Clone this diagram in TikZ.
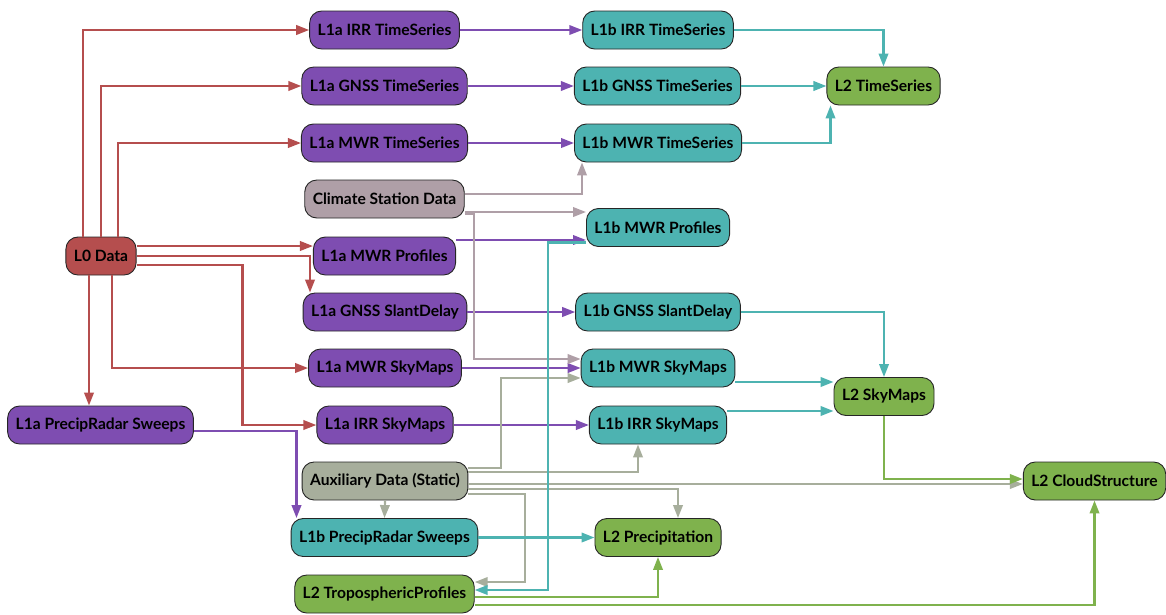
\documentclass[tikz,border=0pt]{standalone}
\usepackage{fontspec}
\setmainfont{Lato}
\usetikzlibrary{arrows.meta}

\definecolor{lzero}{HTML}{B54E4E}
\definecolor{lonea}{HTML}{7E4DB1}
\definecolor{loneb}{HTML}{4DB3B1}
\definecolor{ltwo}{HTML}{7FB24D}
\definecolor{climc}{HTML}{AF9FA7}
\definecolor{auxc}{HTML}{A7AE9C}

\begin{document}
\begin{tikzpicture}[x=1pt, y=-1pt, >={Triangle[length=13pt,width=9.5pt]},
    box/.style={draw=black!85, line width=0.9pt, rounded corners=12pt, minimum height=38pt, inner xsep=8pt, font=\fontsize{15.6}{17}\selectfont\bfseries},
    link/.style={->, line width=2.2pt}]
  \useasboundingbox (0,0) rectangle (1166,614);
  % Level 0 and level 1a
  \node[box, fill=lzero] (L0) at (101,256) {L0 Data};
  \node[box, fill=lonea] (aIRRts) at (384.5,30) {L1a IRR TimeSeries};
  \node[box, fill=lonea] (aGNSSts) at (384.5,86) {L1a GNSS TimeSeries};
  \node[box, fill=lonea] (aMWRts) at (384.5,143) {L1a MWR TimeSeries};
  \node[box, fill=climc] (clim) at (384.5,199) {Climate Station Data};
  \node[box, fill=lonea] (aMWRpr) at (384.5,256) {L1a MWR Profiles};
  \node[box, fill=lonea] (aGNSSsd) at (385,312) {L1a GNSS SlantDelay};
  \node[box, fill=lonea] (aMWRsm) at (385,368) {L1a MWR SkyMaps};
  \node[box, fill=lonea] (aPRsw) at (100.5,425) {L1a PrecipRadar Sweeps};
  \node[box, fill=lonea] (aIRRsm) at (385,425) {L1a IRR SkyMaps};
  \node[box, fill=auxc] (aux) at (385,481) {Auxiliary Data (Static)};
  % Level 1b
  \node[box, fill=loneb] (bPRsw) at (384.5,537.5) {L1b PrecipRadar Sweeps};
  \node[box, fill=loneb] (bIRRts) at (658,30) {L1b IRR TimeSeries};
  \node[box, fill=loneb] (bGNSSts) at (657.5,86) {L1b GNSS TimeSeries};
  \node[box, fill=loneb] (bMWRts) at (658,143) {L1b MWR TimeSeries};
  \node[box, fill=loneb] (bMWRpr) at (658,227.5) {L1b MWR Profiles};
  \node[box, fill=loneb] (bGNSSsd) at (658,312) {L1b GNSS SlantDelay};
  \node[box, fill=loneb] (bMWRsm) at (658,368) {L1b MWR SkyMaps};
  \node[box, fill=loneb] (bIRRsm) at (658,425) {L1b IRR SkyMaps};
  % Level 2
  \node[box, fill=ltwo] (L2trop) at (384.5,594) {L2 TroposphericProfiles};
  \node[box, fill=ltwo] (L2prec) at (658,537.5) {L2 Precipitation};
  \node[box, fill=ltwo] (L2ts) at (883.5,86) {L2 TimeSeries};
  \node[box, fill=ltwo] (L2sky) at (884,396.5) {L2 SkyMaps};
  \node[box, fill=ltwo] (L2cloud) at (1094.5,481) {L2 CloudStructure};

  % L0 -> L1a
  \draw[link, lzero] ([xshift=-18]L0.north) |- (aIRRts);
  \draw[link, lzero] (L0.north) |- (aGNSSts);
  \draw[link, lzero] ([xshift=17]L0.north) |- (aMWRts);
  \draw[link, lzero] ([yshift=10]L0.east) -- ([yshift=10]L0.east -| aMWRpr.west);
  \draw[link, lzero] (L0.east) -| ([xshift=-75]aGNSSsd.north);
  \draw[link, lzero] ([yshift=-9]L0.east) -- ++(106,0) |- (aIRRsm);
  \draw[link, lzero] ([xshift=11]L0.south) |- (aMWRsm);
  \draw[link, lzero] ([xshift=-12]L0.south) -- ([xshift=-12]L0.south |- aPRsw.north);

  % L1a -> L1b
  \draw[link, lonea] (aIRRts) -- (bIRRts);
  \draw[link, lonea] (aGNSSts) -- (bGNSSts);
  \draw[link, lonea] (aMWRts) -- (bMWRts);
  \draw[link, lonea] ([yshift=16]aMWRpr.east) -- ([yshift=16]aMWRpr.east -| bMWRpr.west);
  \draw[link, lonea] (aGNSSsd) -- (bGNSSsd);
  \draw[link, lonea] (aMWRsm) -- (bMWRsm);
  \draw[link, lonea] (aIRRsm) -- (bIRRsm);
  \draw[link, lonea] ([yshift=-6]aPRsw.east) -| ([xshift=-88]bPRsw.north);

  % climate station data
  \draw[link, climc] ([yshift=5]clim.east) -| ([xshift=-76]bMWRts.south);
  \draw[link, climc] ([yshift=-13]clim.east) -- ([yshift=-13]clim.east -| bMWRpr.west);
  \draw[link, climc] ([yshift=-15]clim.east) -- ++(9,0) |- ([yshift=9]bMWRsm.west);

  % auxiliary data
  \draw[link, auxc] ([yshift=13]aux.east) -- ++(33,0) |- ([yshift=-10]bMWRsm.west);
  \draw[link, auxc] ([yshift=9]aux.east) -| ([xshift=-20]bIRRsm.south);
  \draw[link, auxc] ([yshift=-3]aux.east) -- ([yshift=-3]aux.east -| L2cloud.west);
  \draw[link, auxc] ([yshift=-8]aux.east) -| ([xshift=20]L2prec.north);
  \draw[link, auxc] ([yshift=-13]aux.east) -- ++(57,0) |- ([yshift=12]L2trop.east);
  \draw[link, auxc] (aux.south) -- (bPRsw.north);

  % L1b -> L2
  \draw[link, loneb] (bIRRts) -| (L2ts.north);
  \draw[link, loneb] (bGNSSts) -- (L2ts);
  \draw[link, loneb] (bMWRts) -| ([xshift=-53]L2ts.south);
  \draw[link, loneb] ([yshift=-15]bMWRpr.west) -- ++(-38,0) |- ([yshift=4]L2trop.east);
  \draw[link, loneb] (bGNSSsd) -| (L2sky.north);
  \draw[link, loneb] ([yshift=-14]bMWRsm.east) -- ([yshift=-14]bMWRsm.east -| L2sky.west);
  \draw[link, loneb] ([yshift=14]bIRRsm.east) -- ([yshift=14]bIRRsm.east -| L2sky.west);
  \draw[link, loneb] (bPRsw) -- (L2prec);

  % L2 -> L2
  \draw[link, ltwo] (L2sky.south) |- ([yshift=2]L2cloud.west);
  \draw[link, ltwo] ([yshift=-3]L2trop.east) -| (L2prec.south);
  \draw[link, ltwo] ([yshift=-11]L2trop.east) -| (L2cloud.south);
\end{tikzpicture}
\end{document}
